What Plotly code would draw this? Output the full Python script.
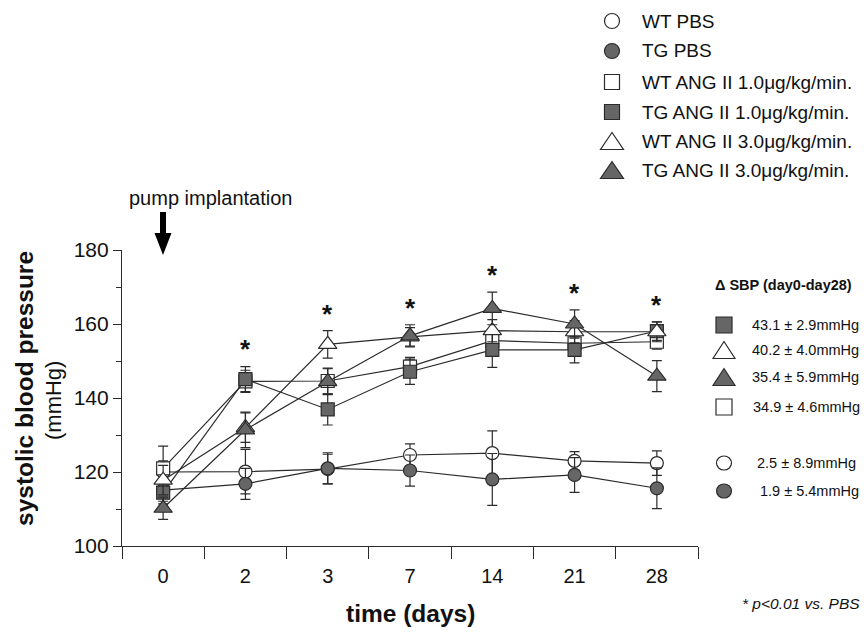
import plotly.graph_objects as go

# ---------------- data ----------------
days = ["0", "2", "3", "7", "14", "21", "28"]

wt_pbs = [120.0, 120.1, 120.8, 124.6, 125.1, 123.0, 122.4]
wt_pbs_err = [3.0, 6.0, 4.0, 3.0, 6.0, 2.5, 3.3]
tg_pbs = [115.1, 116.8, 121.0, 120.4, 118.0, 119.2, 115.6]
tg_pbs_err = [3.0, 4.2, 4.2, 4.2, 7.0, 4.7, 5.5]
wt_ang1 = [121.0, 144.5, 144.6, 148.5, 155.5, 154.8, 155.2]
wt_ang1_err = [6.0, 3.0, 3.5, 2.5, 3.0, 2.5, 2.0]
tg_ang1 = [114.4, 145.1, 136.9, 147.1, 153.0, 153.0, 158.1]
tg_ang1_err = [3.0, 3.4, 4.2, 3.4, 4.7, 3.5, 2.5]
wt_ang3 = [117.8, 132.0, 154.5, 156.5, 158.2, 157.9, 157.9]
wt_ang3_err = [4.0, 4.0, 3.7, 2.5, 3.0, 3.0, 2.7]
tg_ang3 = [110.2, 131.4, 144.4, 156.8, 164.2, 160.0, 145.9]
tg_ang3_err = [3.0, 4.8, 3.5, 3.0, 4.4, 3.8, 4.2]

series_names = ["WT PBS", "TG PBS", "WT ANG II 1.0μg/kg/min.", "TG ANG II 1.0μg/kg/min.",
                "WT ANG II 3.0μg/kg/min.", "TG ANG II 3.0μg/kg/min."]
star_days = ["2", "3", "7", "14", "21", "28"]

delta_title = "Δ SBP (day0-day28)"
delta_order = [3, 4, 5, 2, 0, 1]  # index into series_names
delta_labels = ["43.1 ± 2.9mmHg", "40.2 ± 4.0mmHg", "35.4 ± 5.9mmHg", "34.9 ± 4.6mmHg",
                "2.5 ± 8.9mmHg", "1.9 ± 5.4mmHg"]

y_ticks = [100, 120, 140, 160, 180]

# ---------------- style ----------------
FONT = "Arial, 'Liberation Sans', sans-serif"
DARK = "#2b2b2b"
GRAY = "#666666"
W, H = 864, 634
L, R, T, B = 122, 166, 250, 88

values = [wt_pbs, tg_pbs, wt_ang1, tg_ang1, wt_ang3, tg_ang3]
errors = [wt_pbs_err, tg_pbs_err, wt_ang1_err, tg_ang1_err, wt_ang3_err, tg_ang3_err]
kinds = ["circle", "circle", "square", "square", "triangle", "triangle"]
fills = ["white", GRAY, "white", GRAY, "white", GRAY]
psym = {"circle": "circle", "square": "square", "triangle": "triangle-up"}
psize = {"circle": 13, "square": 13, "triangle": 16}

fig = go.Figure()
for name, v, e, k, f in zip(series_names, values, errors, kinds, fills):
    fig.add_trace(go.Scatter(
        x=days, y=v, name=name, mode="lines+markers", showlegend=False,
        line=dict(color=DARK, width=1.2),
        marker=dict(symbol=psym[k], size=psize[k], color=f, line=dict(color=DARK, width=1.2)),
        error_y=dict(type="data", array=e, visible=True, color=DARK, thickness=1.2, width=5),
    ))


def xp(px):
    return (px - L) / (W - L - R)


def yp(py):
    return (H - B - py) / (H - T - B)


shapes = []
annotations = []


def marker_shape(kind, cx, cy, w, h, fill):
    base = dict(xref="paper", yref="paper", xsizemode="pixel", ysizemode="pixel",
                xanchor=xp(cx), yanchor=yp(cy), fillcolor=fill,
                line=dict(color=DARK, width=1.2), layer="above")
    if kind == "circle":
        base.update(type="circle", x0=-w / 2, x1=w / 2, y0=-h / 2, y1=h / 2)
    elif kind == "square":
        base.update(type="rect", x0=-w / 2, x1=w / 2, y0=-h / 2, y1=h / 2)
    else:
        base.update(type="path",
                    path=f"M{-w / 2},{-h / 2} L{w / 2},{-h / 2} L0,{h / 2} Z")
    return base


# top legend
leg_rows = [21, 51, 82, 112, 141, 170]
for i, name in enumerate(series_names):
    k = kinds[i]
    w, h = (23, 17) if k == "triangle" else (15, 15)
    shapes.append(marker_shape(k, 612, leg_rows[i], w, h, fills[i]))
    annotations.append(dict(xref="paper", yref="paper", x=xp(640), y=yp(leg_rows[i]),
                            xanchor="left", yanchor="middle", showarrow=False, text=name,
                            font=dict(family=FONT, size=19, color="#111")))

# delta SBP legend
annotations.append(dict(xref="paper", yref="paper", x=xp(713), y=yp(285), xanchor="left",
                        yanchor="middle", showarrow=False, text="<b>" + delta_title + "</b>",
                        font=dict(family=FONT, size=14.5, color="#111")))
d_rows = [325, 350, 377, 407, 463, 491]
d_text_x = [750, 750, 750, 751, 755, 758]
for j, (si, lab) in enumerate(zip(delta_order, delta_labels)):
    k = kinds[si]
    if k == "triangle":
        w, h = 22, 17
    elif k == "square":
        w, h = 16, 16
    else:
        w, h = 15, 14
    shapes.append(marker_shape(k, 724, d_rows[j], w, h, fills[si]))
    annotations.append(dict(xref="paper", yref="paper", x=xp(d_text_x[j]), y=yp(d_rows[j]),
                            xanchor="left", yanchor="middle", showarrow=False, text=lab,
                            font=dict(family=FONT, size=14.5, color="#111")))

# significance stars (x given as category index)
for d in star_days:
    i = days.index(d)
    top = max(v[i] + e[i] for v, e in zip(values, errors))
    annotations.append(dict(x=i, y=top + 6.8, xref="x", yref="y", text="<b>*</b>",
                            showarrow=False, yanchor="middle", yshift=-8,
                            font=dict(family=FONT, size=26, color="#111")))

# pump implantation arrow + label
shapes.append(dict(type="path", xref="paper", yref="paper", xsizemode="pixel",
                   ysizemode="pixel", xanchor=xp(163), yanchor=yp(255),
                   path="M0,0 L-8.5,22 L-3,22 L-3,43 L3,43 L3,22 L8.5,22 Z",
                   fillcolor="black", line=dict(width=0), layer="above"))
annotations.append(dict(xref="paper", yref="paper", x=xp(210), y=yp(198), xanchor="center",
                        yanchor="middle", showarrow=False, text="pump implantation",
                        font=dict(family=FONT, size=20, color="#111")))

# axis titles
annotations.append(dict(xref="paper", yref="paper", x=xp(24), y=yp(389), textangle=-90,
                        xanchor="center", yanchor="middle", showarrow=False,
                        text="<b>systolic blood pressure</b>",
                        font=dict(family=FONT, size=24.5, color="#111")))
annotations.append(dict(xref="paper", yref="paper", x=xp(53), y=yp(401), textangle=-90,
                        xanchor="center", yanchor="middle", showarrow=False,
                        text="(mmHg)", font=dict(family=FONT, size=22, color="#111")))
annotations.append(dict(xref="paper", yref="paper", x=xp(410), y=yp(613), xanchor="center",
                        yanchor="middle", showarrow=False, text="<b>time (days)</b>",
                        font=dict(family=FONT, size=24.5, color="#111")))
annotations.append(dict(xref="paper", yref="paper", x=xp(862), y=yp(603), xanchor="right",
                        yanchor="middle", showarrow=False, text="<i>* p&lt;0.01 vs. PBS</i>",
                        font=dict(family=FONT, size=15.5, color="#111")))

fig.update_layout(
    width=W, height=H, margin=dict(l=L, r=R, t=T, b=B, pad=0),
    paper_bgcolor="white", plot_bgcolor="white",
    font=dict(family=FONT, size=20, color="#111"),
    shapes=shapes, annotations=annotations, showlegend=False,
)
fig.update_xaxes(type="category", categoryorder="array", categoryarray=days,
                 range=[-0.5, 6.5], tickson="boundaries", ticks="outside", ticklen=12,
                 tickwidth=1.2, tickcolor=DARK, showline=True, linecolor=DARK, linewidth=1.2,
                 showgrid=False, zeroline=False, ticklabelstandoff=12,
                 tickfont=dict(family=FONT, size=20, color="#111"))
fig.update_yaxes(range=[100, 180], tickvals=y_ticks, ticks="outside", ticklen=8,
                 tickwidth=1.2, tickcolor=DARK, showline=True, linecolor=DARK, linewidth=1.2,
                 showgrid=False, zeroline=False,
                 minor=dict(dtick=10, tick0=100, ticks="outside", ticklen=5, tickwidth=1.2,
                            tickcolor=DARK, showgrid=False),
                 tickfont=dict(family=FONT, size=21, color="#111"))

fig.write_html("out.html", config={"displayModeBar": False},
               post_script="document.body.style.margin='0';document.body.style.overflow='hidden';")
